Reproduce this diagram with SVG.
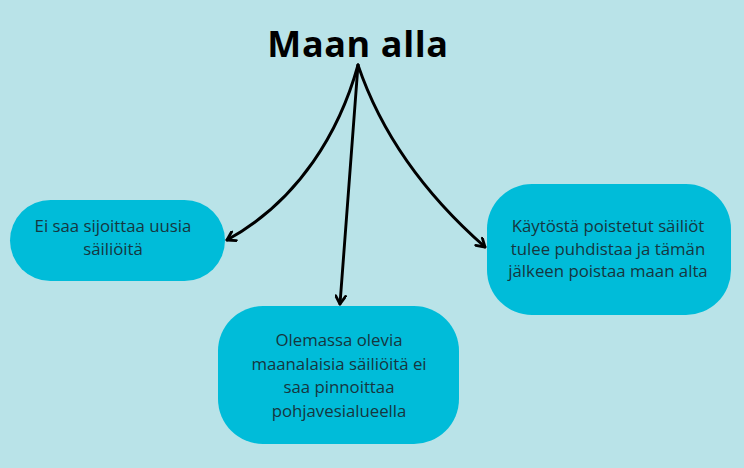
<svg xmlns="http://www.w3.org/2000/svg" width="744" height="468" viewBox="0 0 744 468">
<defs>
<marker id="arr" viewBox="0 0 12 12" refX="10" refY="6" markerWidth="12" markerHeight="12" markerUnits="userSpaceOnUse" orient="auto">
<path d="M2,1 L10,6 L2,11" fill="none" stroke="#000" stroke-width="2.8" stroke-linecap="round" stroke-linejoin="round"/>
</marker>
</defs>
<style>
.node{fill:#00bcd9;}
.lbl{font-family:"Open Sans","Liberation Sans",sans-serif;font-size:16.8px;fill:#16363f;text-anchor:middle;}
.title{font-family:"Open Sans","Liberation Sans",sans-serif;font-size:36px;font-weight:bold;fill:#000;text-anchor:middle;letter-spacing:0.6px;}
.con{fill:none;stroke:#000;stroke-width:2.9;stroke-linecap:round;marker-end:url(#arr);}
</style>
<rect width="744" height="468" fill="#b9e3e8"/>
<g id="title">
<text class="title" x="358" y="57">Maan alla</text>
</g>
<g id="connectors">
<path class="con" d="M358,65 C340,130 300,200 227,240"/>
<path class="con" d="M358,65 L340,304"/>
<path class="con" d="M358,65 C380,130 420,190 485,247"/>
</g>
<g id="node-left">
<rect class="node" x="10" y="200" width="215" height="81" rx="40.5"/>
<text class="lbl" x="113" y="232">Ei saa sijoittaa uusia</text>
<text class="lbl" x="113" y="255">säiliöitä</text>
</g>
<g id="node-bottom">
<rect class="node" x="218" y="306" width="241" height="138" rx="45"/>
<text class="lbl" x="339" y="346">Olemassa olevia</text>
<text class="lbl" x="339" y="369.5">maanalaisia säiliöitä ei</text>
<text class="lbl" x="339" y="393">saa pinnoittaa</text>
<text class="lbl" x="339" y="416.5">pohjavesialueella</text>
</g>
<g id="node-right">
<rect class="node" x="487" y="184" width="244" height="131" rx="45"/>
<text class="lbl" x="608" y="232">Käytöstä poistetut säiliöt</text>
<text class="lbl" x="608" y="254.5">tulee puhdistaa ja tämän</text>
<text class="lbl" x="608" y="277">jälkeen poistaa maan alta</text>
</g>
</svg>
